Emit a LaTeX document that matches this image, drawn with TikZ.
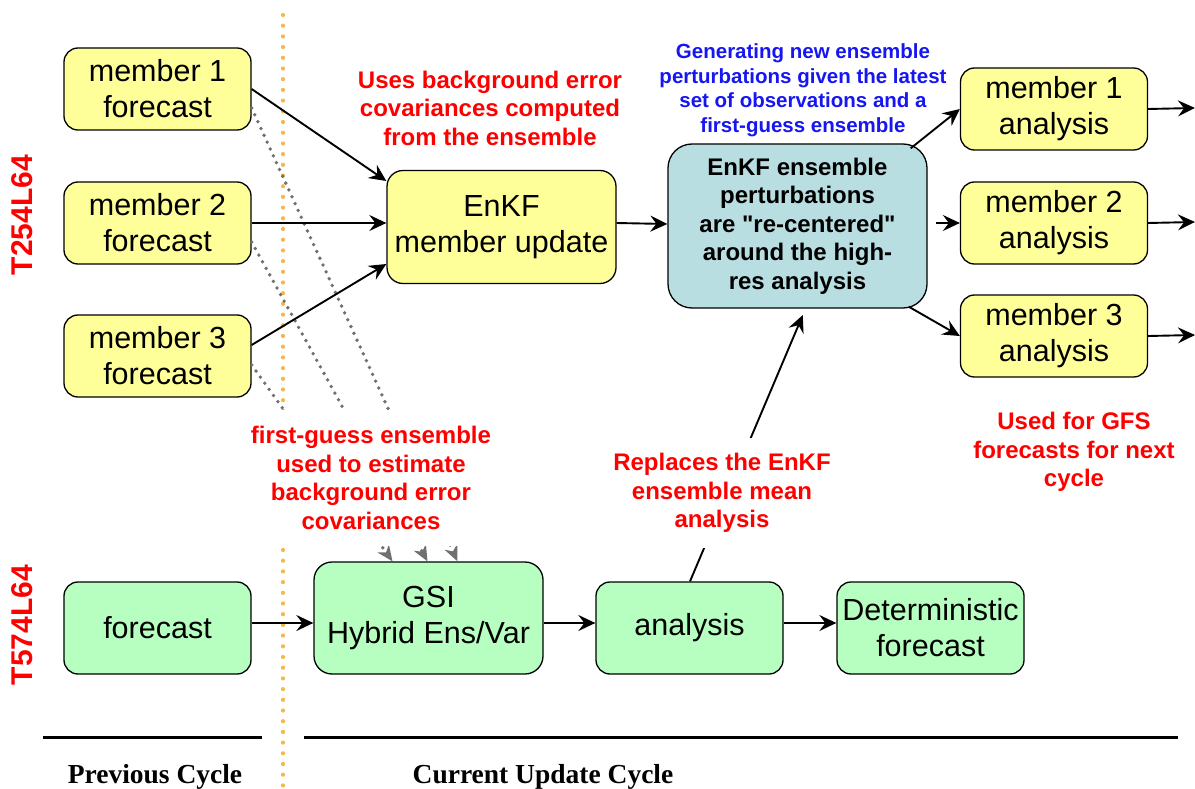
\documentclass[tikz,border=0pt]{standalone}
\usepackage{fontspec}
\setmainfont{Liberation Serif}
\newfontfamily\arialf{Liberation Sans}
\usetikzlibrary{arrows.meta,calc}
\definecolor{ylw}{RGB}{255,255,153}
\definecolor{grn}{RGB}{182,255,192}
\definecolor{tealb}{RGB}{184,222,225}
\definecolor{orng}{RGB}{245,183,72}
\definecolor{redt}{RGB}{255,0,0}
\definecolor{bluet}{RGB}{22,22,240}
\definecolor{dotgray}{RGB}{112,112,112}
\begin{document}
\begin{tikzpicture}[x=1pt,y=-1pt,
  box/.style={draw=black,line width=1.3pt,rounded corners=14pt,align=center,inner sep=0pt,
    font=\arialf\fontsize{30.5}{36}\selectfont},
  ybox/.style={box,fill=ylw,minimum width=187pt,minimum height=82pt},
  gbox/.style={box,fill=grn,minimum width=187pt,minimum height=92pt},
  arr/.style={-{Stealth[length=17pt,width=16pt,inset=6pt]},line width=1.9pt,black},
  garr/.style={-{Stealth[length=16pt,width=14pt,inset=5pt,line width=0pt,sep=0pt]},line width=3.8pt,dotgray,
    dash pattern=on 0pt off 7.5pt,line cap=round},
  redlab/.style={text=redt,align=center,font=\arialf\bfseries\fontsize{24}{28.5}\selectfont},
  sidelab/.style={text=redt,rotate=90,font=\arialf\bfseries\fontsize{30}{36}\selectfont},
  cyclab/.style={anchor=base,font=\bfseries\fontsize{27.5}{33}\selectfont},
  rule/.style={line width=3pt,black}
]
\useasboundingbox (0,0) rectangle (1195,789);

% orange cycle separator
\draw[orng,line width=4.2pt,line cap=round,dash pattern=on 0pt off 10.7pt] (283,15) -- (283,789);

% horizontal rules
\draw[rule] (43,737) -- (262,737);
\draw[rule] (304,737) -- (1178,737);

% side labels
\node[sidelab] (t254) at (22,215) {T254L64};
\node[sidelab] (t574) at (22,625) {T574L64};

% yellow forecast members
\node[ybox] (m1) at (157.5,89) {member 1\\forecast};
\node[ybox] (m2) at (157.5,223) {member 2\\forecast};
\node[ybox] (m3) at (157.5,356) {member 3\\forecast};

% EnKF member update
\node[box,fill=ylw,minimum width=229pt,minimum height=113pt,rounded corners=16pt] (eu) at (501.5,227) {EnKF\\member update};

% re-centering box
\node[box,fill=tealb,minimum width=259pt,minimum height=164pt,rounded corners=24pt,
  font=\arialf\bfseries\fontsize{24}{28.5}\selectfont] (bl) at (797.5,226)
  {EnKF ensemble\\perturbations\\are "re-centered"\\around the high-\\res analysis};

% analysis members
\node[ybox] (a1) at (1054,109) {member 1\\analysis};
\node[ybox] (a2) at (1054,223) {member 2\\analysis};
\node[ybox] (a3) at (1054,336) {member 3\\analysis};
\coordinate (o1) at (1195,108);
\coordinate (o2) at (1195,222);
\coordinate (o3) at (1195,335);

% green row
\node[gbox] (fc) at (157.5,628) {forecast};
\node[box,fill=grn,minimum width=229pt,minimum height=112pt,rounded corners=18pt] (gsi) at (428.5,618) {GSI\\Hybrid Ens/Var};
\node[gbox] (an) at (689.5,628) {analysis};
\node[gbox] (det) at (930.5,628) {Deterministic\\forecast};

% gray dotted first-guess arrows
\draw[garr] ([yshift=-19pt]m1.east) -- ([xshift=29pt]gsi.north);
\draw[garr] ([yshift=-19pt]m2.east) -- ([xshift=-1pt]gsi.north);
\draw[garr] ([yshift=-9pt]m3.east) -- ([xshift=-36pt]gsi.north);

% black arrows
\draw[arr] (m1.east) -- ([yshift=46pt]eu.west);
\draw[arr] (m2.east) -- (m2.east -| eu.west);
\draw[arr] ([yshift=11pt]m3.east) -- ([yshift=-37pt]eu.west);
\draw[arr] ([yshift=4pt]eu.east) -- ([yshift=2pt]bl.west);
\draw[arr] ([xshift=-17pt,yshift=-5pt]bl.north east) -- (a1.west);
\draw[arr,shorten <=8pt] (bl.east |- a2.west) -- (a2.west);
\draw[arr] ([xshift=-19pt,yshift=2pt]bl.south east) -- (a3.west);
\draw[arr] (a1.east) -- (o1);
\draw[arr] (a2.east) -- (o2);
\draw[arr] (a3.east) -- (o3);
\draw[arr] ([yshift=5pt]fc.east) -- ([yshift=-5pt]gsi.west);
\draw[arr] ([yshift=-5pt]gsi.east) -- ([yshift=5pt]an.west);
\draw[arr] ([yshift=5pt]an.east) -- ([yshift=5pt]det.west);
\draw[arr,shorten >=7pt] ([xshift=0.5pt]an.north) -- ([xshift=8pt]bl.south);

% labels
\node[redlab] (lbl1) at (490,108) {Uses background error\\covariances computed\\from the ensemble};
\node[align=center,text=bluet,font=\arialf\bfseries\fontsize{20.5}{24.5}\selectfont] (lbl2) at (803,90)
  {Generating new ensemble\\perturbations given the latest\\set of observations and a\\first-guess ensemble};
\node[redlab,fill=white,inner xsep=4pt,inner ysep=16pt] (lbl3) at (371,478)
  {first-guess ensemble\\used to estimate\\background error\\covariances};
\node[redlab,fill=white,inner xsep=4pt,inner ysep=15pt] (lbl4) at (722,493)
  {Replaces the EnKF\\ensemble mean\\analysis};
\node[redlab] (lbl5) at (1074,452) {Used for GFS\\forecasts for next\\cycle};

% cycle labels
\node[cyclab] (prev) at (155,783) {Previous Cycle};
\node[cyclab] (curr) at (543,783) {Current Update Cycle};
\end{tikzpicture}
\end{document}
